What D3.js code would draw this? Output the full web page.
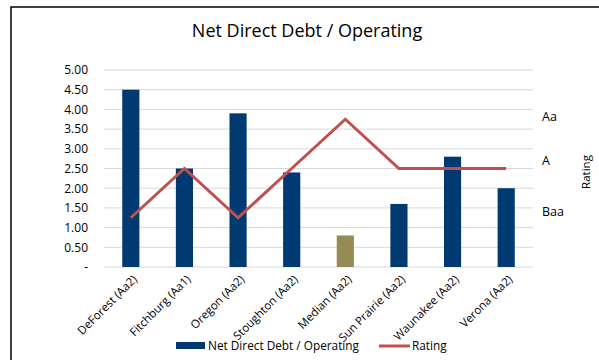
<!DOCTYPE html>
<html><head><meta charset="utf-8">
<script src="https://cdn.jsdelivr.net/npm/d3@7"></script>
<style>body{margin:0;background:#fff}svg{display:block}text{font-family:"Open Sans","Noto Sans",sans-serif;fill:#000}</style>
</head><body><svg id="c" width="599" height="360"></svg>
<script>
const categories = ["DeForest (Aa2)","Fitchburg (Aa1)","Oregon (Aa2)","Stoughton (Aa2)","Median (Aa2)","Sun Prairie (Aa2)","Waunakee (Aa2)","Verona (Aa2)"];
const debtValues = [4.50, 2.50, 3.90, 2.40, 0.80, 1.60, 2.80, 2.00];
const ratingValues = [1, 2, 1, 2, 3, 2, 2, 2];
const yTicks = [0, 0.5, 1, 1.5, 2, 2.5, 3, 3.5, 4, 4.5, 5];
const ratingLabels = ["Baa", "A", "Aa"];
const ratingLabelPos = [1.12, 2.17, 3.05];
const medianName = "Median (Aa2)";

const svg = d3.select("#c");
const L = 104, R = 533, T = 70, B = 267;
const FF = '"Open Sans","Noto Sans",sans-serif';

svg.append("path").attr("d", `M11,360 V7 H599`).attr("fill","none").attr("stroke","#000").attr("stroke-width",1.5);

svg.append("text").attr("x",307).attr("y",37).attr("text-anchor","middle")
  .style("font-size","18px").text("Net Direct Debt / Operating");

const x = d3.scaleBand().domain(categories).range([L, R]).paddingInner(0.68).paddingOuter(0.34);
const y = d3.scaleLinear().domain([0, 5]).range([B, T]);
const y2 = d3.scaleLinear().domain([0, 4]).range([B, T]);

svg.append("g").selectAll("line").data(yTicks).join("line")
  .attr("x1", L).attr("x2", R).attr("y1", d=>y(d)).attr("y2", d=>y(d))
  .attr("stroke", "#D9D9D9").attr("stroke-width", 1);

const yAxis = d3.axisLeft(y).tickValues(yTicks).tickSize(0).tickPadding(0)
  .tickFormat(d => d === 0 ? "-" : d3.format(".2f")(d));
const ga = svg.append("g").attr("transform", `translate(${L-16},0)`).call(yAxis);
ga.select(".domain").remove();
ga.selectAll("text").style("font-size","12px").style("font-family",FF).attr("fill","#000");

const bw = x.bandwidth();
svg.append("g").selectAll("rect").data(categories).join("rect")
  .attr("x", d => x(d)).attr("width", bw)
  .attr("y", (d,i) => y(debtValues[i])).attr("height", (d,i) => y(0) - y(debtValues[i]))
  .attr("fill", d => d === medianName ? "#958B55" : "#003A70");

const line = d3.line().x((d,i) => x(categories[i]) + bw/2).y(d => y2(d));
svg.append("path").datum(ratingValues).attr("d", line)
  .attr("fill","none").attr("stroke","#C0504D").attr("stroke-width",3).attr("stroke-linejoin","miter");

const y2Axis = d3.axisRight(y2).tickValues(ratingLabelPos).tickSize(0).tickPadding(0)
  .tickFormat((d,i) => ratingLabels[i]);
const gb = svg.append("g").attr("transform", `translate(542,0)`).call(y2Axis);
gb.select(".domain").remove();
gb.selectAll("text").style("font-size","12.5px").style("font-family",FF).attr("fill","#000");

svg.append("text").attr("transform","translate(590,172) rotate(-90)").attr("text-anchor","middle")
  .style("font-size","11.5px").text("Rating");

const xAxis = d3.axisBottom(x).tickSize(0).tickPadding(0);
const gx = svg.append("g").attr("transform", `translate(0,${B})`).call(xAxis);
gx.select(".domain").remove();
gx.selectAll("text").attr("text-anchor","end").attr("dy",0)
  .attr("transform","translate(7,13) rotate(-45)")
  .style("font-size","11.5px").style("font-family",FF).attr("fill","#000");

const lg = svg.append("g");
lg.append("rect").attr("x",176).attr("y",342).attr("width",29).attr("height",7).attr("fill","#003A70");
lg.append("text").attr("x",208).attr("y",350).style("font-size","11.8px").text("Net Direct Debt / Operating");
lg.append("line").attr("x1",379).attr("x2",410).attr("y1",346).attr("y2",346).attr("stroke","#C0504D").attr("stroke-width",3);
lg.append("text").attr("x",412).attr("y",350).style("font-size","11.8px").text("Rating");
</script></body></html>
